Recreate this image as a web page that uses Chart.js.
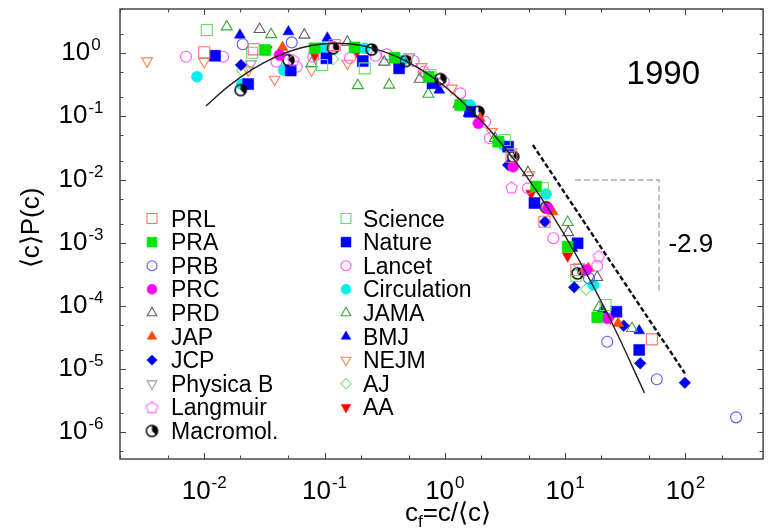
<!DOCTYPE html>
<html>
<head>
<meta charset="utf-8">
<script src="https://cdn.jsdelivr.net/npm/chart.js@4.4.1/dist/chart.umd.min.js"></script>
<style>
  html, body { margin: 0; padding: 0; background: #fff; }
  #wrap { width: 772px; height: 530px; }
</style>
</head>
<body>
<div id="wrap"><canvas id="cv" width="772" height="530"></canvas></div>
<script>
// Rescaled citation distributions, papers published in 1990: [c_f, <c>P(c)]
const PRL = [[0.01,1.037],[0.0258,1.157],[0.1215,1.35],[3.58,0.0230],[6.73,0.00214],[12.4,0.000368],[52.6,0.0000293]];
const PRA = [[0.0322,1.128],[0.0828,1.20],[0.1776,1.24],[0.382,0.852],[0.736,0.426],[1.343,0.1516],[2.78,0.0397],[5.74,0.00774],[10.5,0.000861],[18.5,0.0000655]];
const PRB = [[0.0209,1.39],[0.0534,1.49],[15.8,0.000272],[22.4,0.0000269],[57.8,0.00000682],[264,0.0000017]];
const PRC = [[0.0423,0.94],[1.90,0.0777],[3.70,0.01595],[7.17,0.0035],[15.0,0.000368],[22.4,0.0000632]];
const PRD = [[0.0289,2.40],[0.068,1.95],[0.155,1.51],[0.314,0.728],[0.619,0.391],[1.30,0.157],[2.61,0.045],[4.91,0.01291],[10.6,0.00145],[18.5,0.000282]];
const JAP = [[0.0448,1.245],[1.96,0.0933],[7.9,0.00309],[15.6,0.000392],[27.6,0.0000526]];
const JCP = [[0.0202,0.653],[3.36,0.01698],[6.8,0.00214],[11.9,0.000196],[30.7,0.0000482],[42.1,0.0000122],[98.9,0.00000602]];
const PHYSICA_B = [[0.0244,0.677],[0.507,0.874],[3.58,0.0273],[13.0,0.000411]];
const LANGMUIR = [[0.0551,0.783],[3.58,0.00752],[19.1,0.000613]];
const MACROMOL = [[0.0201,0.262],[0.0501,0.783],[0.1177,1.20],[0.2466,1.149],[0.473,0.755],[0.918,0.391],[1.90,0.1187],[3.70,0.0230],[6.95,0.00363],[12.7,0.000326]];
const SCIENCE = [[0.0105,2.34],[0.025,1.022],[0.0955,0.653],[0.216,0.578],[0.760,0.453],[3.15,0.0423],[6.53,0.00725],[12.4,0.000299],[21.7,0.0001026]];
const NATURE = [[0.0123,0.916],[0.0232,0.326],[0.0524,0.534],[0.1037,0.833],[0.208,0.755],[0.417,0.578],[0.79,0.335],[1.623,0.1187],[3.36,0.0331],[5.56,0.00424],[12.7,0.000975],[26.7,0.0000803],[41.3,0.0000199]];
const LANCET = [[0.00706,0.884],[0.01435,0.884],[0.0399,0.736],[0.0587,0.613],[0.0805,0.884],[0.1177,1.27],[0.163,0.842],[0.266,0.916],[0.330,0.964],[0.55,0.755],[0.670,0.511],[0.98,0.355],[1.343,0.232],[2.16,0.0824],[2.37,0.045],[4.91,0.00725],[7.98,0.00117],[18.5,0.000426]];
const CIRCULATION = [[0.00871,0.426],[0.0205,0.323],[0.0456,0.543],[0.0973,1.24],[0.216,1.20],[0.444,0.755],[0.80,0.347],[1.623,0.1516],[3.05,0.0352],[6.95,0.00589],[17.2,0.000213]];
const JAMA = [[0.0154,2.64],[0.036,1.99],[0.078,0.694],[0.1892,0.309],[0.345,0.315],[0.73,0.226],[10.5,0.0021],[19.1,0.0000943],[36.0,0.0000438]];
const BMJ = [[0.0198,1.95],[0.0501,2.20],[0.1056,1.75],[0.90,0.262],[1.57,0.1119],[11.5,0.000812],[20.4,0.0000855],[41.3,0.0000402]];
const NEJM = [[0.00335,0.755],[0.01,0.736],[0.0232,0.543],[0.0385,0.387],[0.078,0.543],[0.155,0.694],[0.64,0.613],[1.146,0.279],[2.45,0.0572],[5.06,0.01178]];
const AJ = [[0.0207,0.534],[0.1177,0.812],[15.0,0.000182]];
const AA = [[0.0332,1.157],[0.083,0.94],[0.186,1.06],[0.384,0.833],[0.745,0.402],[1.476,0.161],[2.78,0.0423],[5.22,0.00604],[10.5,0.000613],[23.8,0.0000632]];

// Lognormal fit drawn through the collapsed data
const FIT_X = [0.01033,0.01585,0.0251,0.0398,0.0631,0.1,0.1585,0.2512,0.3981,0.631,1,1.585,2.512,3.981,6.31,10,15.85,25.12,45.7];
const FIT_Y = [0.1463,0.2996,0.5578,0.8893,1.2134,1.4166,1.4158,1.2110,0.8860,0.5550,0.2977,0.1365,0.05362,0.01802,0.005183,0.001275,0.0002688,0.00004845,0.00000414];

// Power-law guide with exponent -2.9 and its slope marker
const GUIDE_X = [5.39, 98.9];
const GUIDE_Y = [0.0352, 0.00000849];
const SLOPE_X = [12.05, 60.4, 60.4];
const SLOPE_Y = [0.00982, 0.00982, 0.000165];

// Axis decades that carry labels
const X_DECADES = [-2, -1, 0, 1, 2];
const Y_DECADES = [0, -1, -2, -3, -4, -5, -6];

const FONT = '"Liberation Sans", Arial, Helvetica, sans-serif';

// Custom marker images
function makePentagon(color) {
  const c = document.createElement('canvas');
  c.width = 15; c.height = 15;
  const g = c.getContext('2d');
  g.strokeStyle = color; g.lineWidth = 1.1;
  g.beginPath();
  for (let i = 0; i < 5; i++) {
    const a = -Math.PI / 2 + i * 2 * Math.PI / 5;
    const px = 7.5 + 6 * Math.cos(a), py = 8 + 6 * Math.sin(a);
    if (i === 0) g.moveTo(px, py); else g.lineTo(px, py);
  }
  g.closePath(); g.stroke();
  return c;
}
function makeQuarterDot(color) {
  const c = document.createElement('canvas');
  c.width = 15; c.height = 15;
  const g = c.getContext('2d');
  g.fillStyle = color; g.strokeStyle = color; g.lineWidth = 1.5;
  g.beginPath(); g.moveTo(7.5, 7.5); g.arc(7.5, 7.5, 5.6, -Math.PI / 2, Math.PI * 0.25); g.closePath(); g.fill();
  g.beginPath(); g.arc(7.5, 7.5, 5.6, 0, Math.PI * 2); g.stroke();
  return c;
}
const pentagonImg = makePentagon('#ff60ff');
const quarterDotImg = makeQuarterDot('#000000');

const SIZE = { rect: 7.8, circle: 5.5, triangle: 6.3, rectRot: 5.8 };
const LEGEND_SIZE = { rect: 7, circle: 5, triangle: 5.6, rectRot: 5.2 };

const series = [
  { label: 'PRL', data: PRL, shape: 'rect', color: '#ff7070', fill: false },
  { label: 'PRA', data: PRA, shape: 'rect', color: '#00e600', fill: true },
  { label: 'PRB', data: PRB, shape: 'circle', color: '#5a5aff', fill: false },
  { label: 'PRC', data: PRC, shape: 'circle', color: '#ff00ff', fill: true },
  { label: 'PRD', data: PRD, shape: 'triangle', color: '#606060', fill: false },
  { label: 'JAP', data: JAP, shape: 'triangle', color: '#ff4a00', fill: true },
  { label: 'JCP', data: JCP, shape: 'rectRot', color: '#0000f0', fill: true },
  { label: 'Physica B', data: PHYSICA_B, shape: 'triangle', rot: 180, color: '#9a9a9a', fill: false },
  { label: 'Langmuir', data: LANGMUIR, shape: pentagonImg, color: '#ff60ff', fill: false },
  { label: 'Macromol.', data: MACROMOL, shape: quarterDotImg, color: '#000000', fill: false },
  { label: 'Science', data: SCIENCE, shape: 'rect', color: '#66dd66', fill: false },
  { label: 'Nature', data: NATURE, shape: 'rect', color: '#0000ff', fill: true },
  { label: 'Lancet', data: LANCET, shape: 'circle', color: '#ff55ff', fill: false },
  { label: 'Circulation', data: CIRCULATION, shape: 'circle', color: '#00eeee', fill: true },
  { label: 'JAMA', data: JAMA, shape: 'triangle', color: '#3aa53a', fill: false },
  { label: 'BMJ', data: BMJ, shape: 'triangle', color: '#0000ff', fill: true },
  { label: 'NEJM', data: NEJM, shape: 'triangle', rot: 180, color: '#ff8050', fill: false },
  { label: 'AJ', data: AJ, shape: 'rectRot', color: '#80e880', fill: false },
  { label: 'AA', data: AA, shape: 'triangle', rot: 180, color: '#ff0000', fill: true }
];

const toPoints = (xs, ys) => xs.map((x, i) => ({ x: x, y: ys[i] }));

const datasets = [
  {
    label: 'fit', data: toPoints(FIT_X, FIT_Y), showLine: true, pointRadius: 0,
    borderColor: '#222', borderWidth: 1.4, tension: 0.4, fill: false
  },
  {
    label: 'guide', data: toPoints(GUIDE_X, GUIDE_Y), showLine: true, pointRadius: 0,
    borderColor: '#111', borderWidth: 2.4, borderDash: [5, 2.5], fill: false
  },
  {
    label: 'slope', data: toPoints(SLOPE_X, SLOPE_Y), showLine: true, pointRadius: 0,
    borderColor: '#aaaaaa', borderWidth: 1.4, borderDash: [6, 3], fill: false, tension: 0
  }
];
series.forEach(s => {
  const isImg = typeof s.shape !== 'string';
  datasets.push({
    label: s.label,
    data: s.data.map(p => ({ x: p[0], y: p[1] })),
    pointStyle: s.shape,
    rotation: s.rot || 0,
    pointRadius: isImg ? 7 : SIZE[s.shape],
    pointBackgroundColor: s.fill ? s.color : 'rgba(0,0,0,0)',
    pointBorderColor: s.color,
    pointBorderWidth: s.fill ? 0.5 : 1.1,
    showLine: false
  });
});

function drawExpLabel(ctx, cx, baseY, exp, big, small, raise) {
  ctx.font = big + 'px ' + FONT;
  const w1 = ctx.measureText('10').width;
  ctx.font = small + 'px ' + FONT;
  const w2 = ctx.measureText(exp).width;
  const left = cx - (w1 + w2 + 1) / 2;
  ctx.textAlign = 'left';
  ctx.textBaseline = 'alphabetic';
  ctx.font = big + 'px ' + FONT;
  ctx.fillText('10', left, baseY);
  ctx.font = small + 'px ' + FONT;
  ctx.fillText(exp, left + w1 + 1, baseY - raise);
}

function drawMarker(ctx, s, x, y) {
  const isImg = typeof s.shape !== 'string';
  ctx.save();
  ctx.fillStyle = s.fill ? s.color : 'rgba(0,0,0,0)';
  ctx.strokeStyle = s.color;
  ctx.lineWidth = s.fill ? 0.5 : 1.1;
  const opts = {
    pointStyle: s.shape, rotation: s.rot || 0,
    radius: isImg ? 7 : LEGEND_SIZE[s.shape], borderWidth: ctx.lineWidth
  };
  if (Chart.helpers && Chart.helpers.drawPoint) {
    Chart.helpers.drawPoint(ctx, opts, x, y);
  }
  ctx.restore();
}

const framePlugin = {
  id: 'frameAndText',
  afterDraw(chart) {
    const ctx = chart.ctx;
    const a = chart.chartArea;
    const xs = chart.scales.x, ys = chart.scales.y;
    ctx.save();

    // frame
    ctx.strokeStyle = '#474747';
    ctx.lineWidth = 1.5;
    ctx.strokeRect(a.left, a.top, a.right - a.left, a.bottom - a.top);

    // inward ticks on all four sides
    ctx.lineWidth = 1.1;
    ctx.beginPath();
    for (let k = -4; k <= 3; k++) {
      [1, 2, 5].forEach(m => {
        const v = m * Math.pow(10, k);
        if (v < xs.min || v > xs.max) return;
        const px = Math.round(xs.getPixelForValue(v)) + 0.5;
        const len = m === 1 ? 6 : 3.5;
        ctx.moveTo(px, a.bottom); ctx.lineTo(px, a.bottom - len);
        ctx.moveTo(px, a.top); ctx.lineTo(px, a.top + len);
      });
    }
    for (let k = -8; k <= 1; k++) {
      [1, 2, 5].forEach(m => {
        const v = m * Math.pow(10, k);
        if (v < ys.min || v > ys.max) return;
        const py = Math.round(ys.getPixelForValue(v)) + 0.5;
        const len = m === 1 ? 6 : 3.5;
        ctx.moveTo(a.left, py); ctx.lineTo(a.left + len, py);
        ctx.moveTo(a.right, py); ctx.lineTo(a.right - len, py);
      });
    }
    ctx.stroke();

    // tick labels
    ctx.fillStyle = '#000';
    X_DECADES.forEach(k => {
      const px = xs.getPixelForValue(Math.pow(10, k));
      drawExpLabel(ctx, px, 499, String(k), 26, 17, 11);
    });
    Y_DECADES.forEach(k => {
      const py = ys.getPixelForValue(Math.pow(10, k));
      drawExpLabel(ctx, 81, py + 7, String(k), 26, 17, 10);
    });

    // axis titles
    ctx.textBaseline = 'alphabetic';
    ctx.textAlign = 'left';
    ctx.font = '26px ' + FONT;
    const wc = ctx.measureText('c').width;
    const wRest = ctx.measureText('=c/\u27E8c\u27E9').width;
    ctx.font = '17px ' + FONT;
    const wf = ctx.measureText('f').width;
    let tx = 448 - (wc + wf + wRest) / 2;
    ctx.font = '26px ' + FONT;
    ctx.fillText('c', tx, 521);
    ctx.font = '17px ' + FONT;
    ctx.fillText('f', tx + wc, 527);
    ctx.font = '26px ' + FONT;
    ctx.fillText('=c/\u27E8c\u27E9', tx + wc + wf, 521);

    ctx.save();
    ctx.translate(32, 228);
    ctx.rotate(-Math.PI / 2);
    ctx.textAlign = 'center';
    ctx.textBaseline = 'middle';
    ctx.font = '26px ' + FONT;
    ctx.fillText('\u27E8c\u27E9P(c)', 0, 0);
    ctx.restore();

    // year and slope annotations
    ctx.textAlign = 'center';
    ctx.textBaseline = 'alphabetic';
    ctx.font = '33px ' + FONT;
    ctx.fillText('1990', xs.getPixelForValue(65.5), 84);
    ctx.font = '26px ' + FONT;
    ctx.fillText('-2.9', xs.getPixelForValue(111), 252);

    // legend in two columns
    ctx.textAlign = 'left';
    series.forEach((s, i) => {
      const col = i < 10 ? 0 : 1;
      const row = i < 10 ? i : i - 10;
      const mx = col === 0 ? 152 : 346;
      const tx2 = col === 0 ? 171 : 363;
      const my = 218.5 + row * 23.6;
      drawMarker(ctx, s, mx, my);
      ctx.fillStyle = '#000';
      ctx.font = '23px ' + FONT;
      ctx.fillText(s.label, tx2, my + 8);
    });

    ctx.restore();
  }
};

new Chart(document.getElementById('cv'), {
  type: 'scatter',
  data: { datasets: datasets },
  options: {
    responsive: false,
    animation: false,
    devicePixelRatio: 1,
    layout: { padding: { left: 120, right: 3, top: 9, bottom: 71 } },
    plugins: { legend: { display: false }, tooltip: { enabled: false } },
    scales: {
      x: { type: 'logarithmic', min: 0.001995, max: 442.4, display: false },
      y: { type: 'logarithmic', min: 3.72e-7, max: 5.04, display: false }
    }
  },
  plugins: [framePlugin]
});
</script>
</body>
</html>
